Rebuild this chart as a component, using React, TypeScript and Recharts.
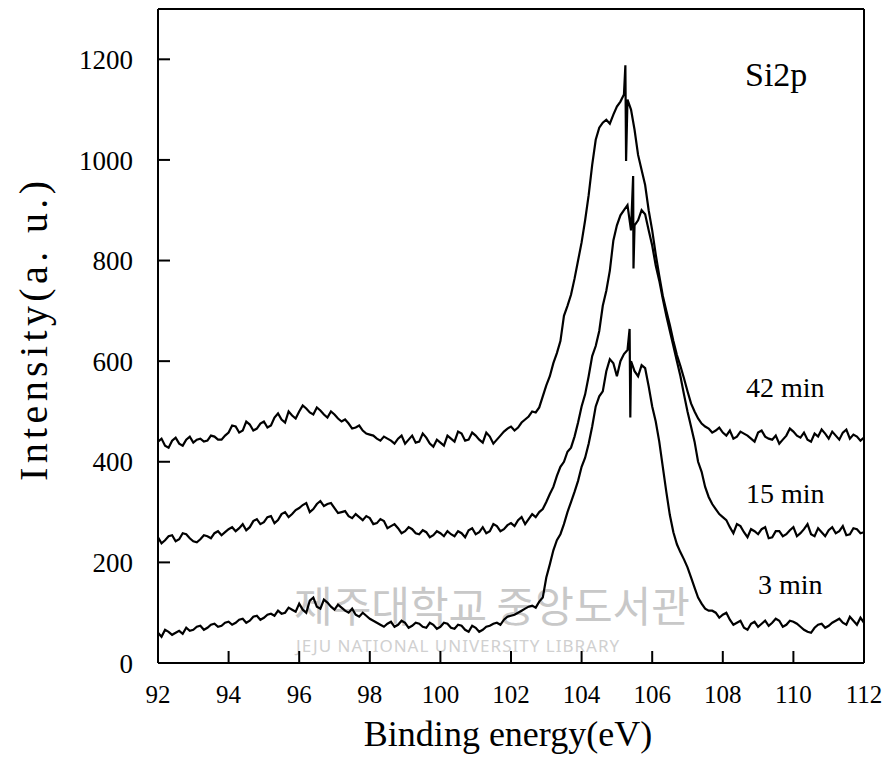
import React from "react";
import { LineChart, Line, XAxis, YAxis, ReferenceLine } from "recharts";

// binding energy grid (eV), main points
const energy = [
  92.0, 92.2, 92.4, 92.6, 92.8, 93.0, 93.2, 93.4, 93.6, 93.8,
  94.0, 94.2, 94.4, 94.6, 94.8, 95.0, 95.2, 95.4, 95.6, 95.8,
  96.0, 96.2, 96.4, 96.6, 96.8, 97.0, 97.2, 97.4, 97.6, 97.8,
  98.0, 98.2, 98.4, 98.6, 98.8, 99.0, 99.2, 99.4, 99.6, 99.8,
  100.0, 100.2, 100.4, 100.6, 100.8, 101.0, 101.2, 101.4, 101.6, 101.8,
  102.0, 102.2, 102.4, 102.6, 102.8, 103.0, 103.2, 103.4, 103.6, 103.8,
  104.0, 104.2, 104.4, 104.6, 104.8, 105.0, 105.2, 105.4, 105.6, 105.8,
  106.0, 106.2, 106.4, 106.6, 106.8, 107.0, 107.2, 107.4, 107.6, 107.8,
  108.0, 108.2, 108.4, 108.6, 108.8, 109.0, 109.2, 109.4, 109.6, 109.8,
  110.0, 110.2, 110.4, 110.6, 110.8, 111.0, 111.2, 111.4, 111.6, 111.8,
  112.0,
];

// in-between points
const energyMid = [
  92.1, 92.3, 92.5, 92.7, 92.9, 93.1, 93.3, 93.5, 93.7, 93.9,
  94.1, 94.3, 94.5, 94.7, 94.9, 95.1, 95.3, 95.5, 95.7, 95.9,
  96.1, 96.3, 96.5, 96.7, 96.9, 97.1, 97.3, 97.5, 97.7, 97.9,
  98.1, 98.3, 98.5, 98.7, 98.9, 99.1, 99.3, 99.5, 99.7, 99.9,
  100.1, 100.3, 100.5, 100.7, 100.9, 101.1, 101.3, 101.5, 101.7, 101.9,
  102.1, 102.3, 102.5, 102.7, 102.9, 103.1, 103.3, 103.5, 103.7, 103.9,
  104.1, 104.3, 104.5, 104.7, 104.9, 105.1, 105.3, 105.5, 105.7, 105.9,
  106.1, 106.3, 106.5, 106.7, 106.9, 107.1, 107.3, 107.5, 107.7, 107.9,
  108.1, 108.3, 108.5, 108.7, 108.9, 109.1, 109.3, 109.5, 109.7, 109.9,
  110.1, 110.3, 110.5, 110.7, 110.9, 111.1, 111.3, 111.5, 111.7, 111.9,
];

const min42 = [
  440, 432, 442, 436, 444, 438, 446, 442, 450, 444,
  458, 470, 462, 474, 466, 480, 472, 496, 478, 492,
  500, 506, 494, 502, 488, 494, 480, 476, 468, 462,
  454, 446, 450, 442, 446, 436, 452, 440, 448, 430,
  438, 452, 440, 456, 444, 452, 438, 450, 444, 460,
  470, 468, 484, 500, 508, 552, 596, 640, 710, 764,
  836, 930, 1040, 1074, 1072, 1106, 1130, 1100, 1010, 950,
  860, 770, 700, 640, 590, 540, 500, 476, 466, 462,
  458, 462, 450, 456, 446, 458, 450, 444, 436, 452,
  460, 448, 444, 456, 464, 446, 452, 458, 446, 450,
  448,
];
const min42Mid = [
  446, 428, 448, 432, 450, 444, 440, 452, 444, 452,
  472, 458, 480, 462, 476, 468, 488, 484, 500, 486,
  512, 498, 508, 494, 500, 486, 484, 466, 472, 456,
  452, 442, 446, 436, 452, 444, 438, 456, 436, 444,
  432, 446, 460, 442, 458, 444, 458, 436, 452, 466,
  462, 478, 490, 498, 530, 570, 616, 690, 732, 800,
  880, 990, 1064, 1080, 1090, 1116, 1120, 1060, 980, 900,
  812, 730, 672, 612, 566, 516, 486, 470, 458, 468,
  452, 446, 460, 452, 440, 462, 446, 452, 444, 466,
  452, 458, 440, 450, 456, 460, 444, 464, 454, 442,
];

const min15 = [
  250, 244, 254, 246, 256, 242, 246, 252, 258, 254,
  266, 262, 276, 270, 286, 280, 292, 284, 300, 296,
  308, 318, 306, 322, 316, 308, 300, 292, 296, 284,
  288, 278, 282, 272, 268, 262, 266, 256, 260, 254,
  258, 262, 252, 258, 264, 256, 270, 262, 272, 266,
  278, 284, 276, 296, 300, 320, 350, 390, 420, 450,
  510, 570, 630, 710, 780, 870, 900, 860, 880, 892,
  830, 760, 690, 630, 570, 500, 440, 380, 330, 306,
  290, 270, 276, 260, 266, 256, 270, 250, 262, 256,
  270, 258, 276, 252, 260, 264, 258, 272, 256, 266,
  260,
];
const min15Mid = [
  238, 252, 242, 258, 248, 240, 254, 248, 262, 260,
  270, 268, 264, 282, 276, 290, 278, 296, 290, 304,
  314, 300, 316, 312, 318, 298, 302, 288, 290, 292,
  276, 286, 268, 276, 258, 270, 258, 264, 250, 262,
  252, 256, 262, 250, 268, 260, 258, 276, 262, 274,
  272, 290, 286, 290, 306, 336, 372, 400, 428, 478,
  534, 610, 660, 740, 840, 890, 910, 870, 900, 860,
  790, 724, 660, 600, 534, 470, 400, 350, 316, 296,
  284, 258, 272, 250, 262, 266, 248, 262, 252, 264,
  252, 266, 256, 268, 252, 270, 262, 254, 268, 258,
];

const min3 = [
  60, 66, 56, 64, 70, 66, 74, 70, 78, 74,
  82, 80, 88, 84, 94, 90, 98, 104, 100, 106,
  118, 100, 130, 108, 120, 106, 110, 100, 96, 100,
  88, 80, 72, 82, 76, 80, 74, 78, 70, 76,
  72, 78, 68, 74, 62, 70, 66, 74, 80, 86,
  94, 100, 108, 114, 122, 170, 224, 256, 300, 340,
  390, 436, 510, 540, 604, 570, 614, 600, 570, 586,
  510, 440, 340, 260, 220, 190, 150, 118, 104, 100,
  96, 86, 80, 70, 78, 72, 84, 80, 84, 76,
  82, 72, 62, 70, 78, 74, 84, 80, 92, 76,
  80,
];
const min3Mid = [
  52, 62, 60, 58, 64, 72, 66, 76, 72, 80,
  76, 86, 80, 92, 86, 96, 94, 98, 110, 102,
  106, 124, 112, 126, 112, 116, 104, 108, 92, 94,
  84, 76, 78, 72, 84, 70, 80, 72, 80, 68,
  80, 70, 76, 66, 74, 62, 72, 78, 76, 92,
  96, 104, 112, 110, 130, 196, 244, 276, 320, 362,
  408, 470, 530, 580, 596, 600, 622, 580, 592, 550,
  480, 390, 294, 236, 206, 170, 130, 108, 104, 90,
  100, 76, 84, 66, 82, 78, 74, 88, 72, 84,
  78, 66, 60, 76, 70, 80, 88, 76, 84, 90,
];

// the sharp spikes near the peak tops
const spike42E = [105.24, 105.26];
const spike42V = [1188, 998];
const spike15E = [105.46, 105.47];
const spike15V = [968, 784];
const spike3E = [105.36, 105.38];
const spike3V = [664, 488];

const xTicks = [92, 94, 96, 98, 100, 102, 104, 106, 108, 110, 112];
const yTicks = [0, 200, 400, 600, 800, 1000, 1200];

function buildSeries(values: number[], mids: number[], spikeE: number[], spikeV: number[]) {
  const pts = energy.map((e, i) => ({ e, v: values[i] }));
  energyMid.forEach((e, i) => pts.push({ e, v: mids[i] }));
  spikeE.forEach((e, i) => pts.push({ e, v: spikeV[i] }));
  return pts.sort((a, b) => a.e - b.e);
}

const serif = "'Liberation Serif', 'Times New Roman', serif";
const axisStyle = { stroke: "#000", strokeWidth: 2 };

export default function App() {
  const d42 = buildSeries(min42, min42Mid, spike42E, spike42V);
  const d15 = buildSeries(min15, min15Mid, spike15E, spike15V);
  const d3 = buildSeries(min3, min3Mid, spike3E, spike3V);

  return (
    <div style={{ position: "absolute", left: 0, top: 0, background: "#fff" }}>
      <LineChart
        width={891}
        height={760}
        margin={{ top: 9, right: 27, left: 98, bottom: 37 }}
      >
        <text x={294} y={622} fontSize={42} fill="#c8c8c8" fontFamily="'Noto Sans CJK KR', sans-serif">
          제주대학교 중앙도서관
        </text>
        <text x={296} y={652} fontSize={17} fill="#d0d0d0" fontFamily="'Noto Sans', sans-serif" letterSpacing={1}>
          JEJU NATIONAL UNIVERSITY LIBRARY
        </text>
        <XAxis
          type="number"
          dataKey="e"
          domain={[92, 112]}
          ticks={xTicks}
          height={60}
          axisLine={axisStyle}
          tickLine={axisStyle}
          tickSize={-12}
          tickMargin={34}
          tick={{ fill: "#000", fontSize: 25, fontFamily: serif }}
          allowDataOverflow
        />
        <YAxis
          type="number"
          dataKey="v"
          domain={[0, 1300]}
          ticks={yTicks}
          width={60}
          axisLine={axisStyle}
          tickLine={axisStyle}
          tickSize={-12}
          tickMargin={37}
          tick={{ fill: "#000", fontSize: 27, fontFamily: serif }}
          allowDataOverflow
        />
        <ReferenceLine y={1300} stroke="#000" strokeWidth={2} />
        <ReferenceLine x={112} stroke="#000" strokeWidth={2} />
        <Line data={d42} dataKey="v" type="linear" stroke="#000" strokeWidth={2.2} dot={false} isAnimationActive={false} />
        <Line data={d15} dataKey="v" type="linear" stroke="#000" strokeWidth={2.2} dot={false} isAnimationActive={false} />
        <Line data={d3} dataKey="v" type="linear" stroke="#000" strokeWidth={2.2} dot={false} isAnimationActive={false} />
        <text x={745} y={86} fontSize={34} fill="#000" fontFamily={serif}>Si2p</text>
        <text x={746} y={397} fontSize={28} fill="#000" fontFamily={serif}>42 min</text>
        <text x={746} y={503} fontSize={28} fill="#000" fontFamily={serif}>15 min</text>
        <text x={758} y={594} fontSize={28} fill="#000" fontFamily={serif}>3 min</text>
        <text x={508} y={746} fontSize={36} fill="#000" fontFamily={serif} textAnchor="middle">
          Binding energy(eV)
        </text>
        <text
          transform="translate(47,331) rotate(-90)"
          fontSize={40}
          fill="#000"
          fontFamily={serif}
          textAnchor="middle"
          textLength={300}
          lengthAdjust="spacing"
        >
          Intensity(a. u.)
        </text>
      </LineChart>
    </div>
  );
}
